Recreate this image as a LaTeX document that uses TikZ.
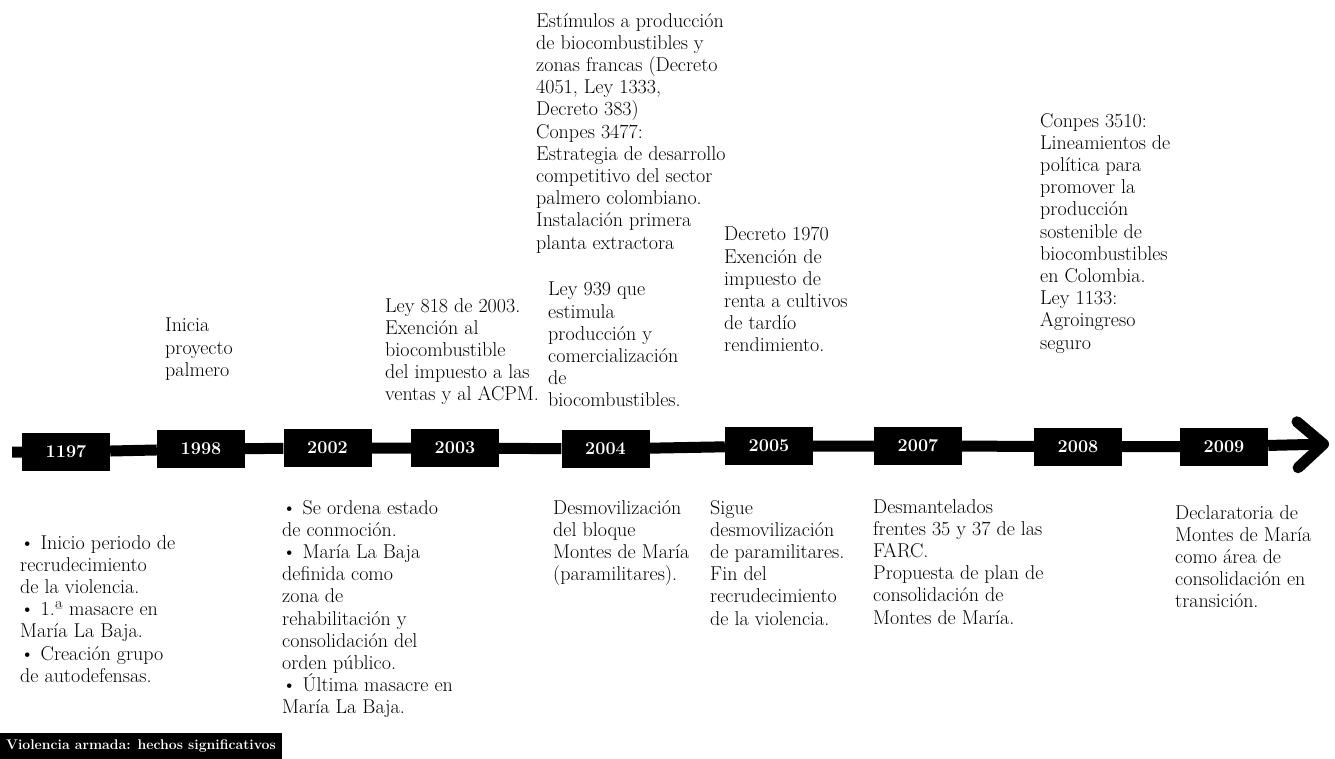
\documentclass[tikz,border=0pt]{standalone}
\usepackage{fontspec}
\usepackage{tikz}
\usetikzlibrary{arrows.meta}

\tikzset{
  year/.style={fill=black, text=white, inner sep=0pt, minimum width=88pt, minimum height=38pt,
    font=\fontsize{18}{18}\selectfont\bfseries},
  event/.style={anchor=north west, align=left, inner sep=0pt,
    font=\fontsize{20}{22.2}\selectfont},
  timeline/.style={line width=11pt, -{Straight Barb[length=26pt, width=46pt, round]}},
  tagbox/.style={fill=black, text=white, inner xsep=6pt, inner ysep=0pt, minimum height=26pt,
    font=\fontsize{14}{14}\selectfont\bfseries},
}

\begin{document}
\begin{tikzpicture}[x=1pt, y=-1pt]
\useasboundingbox (0,0) rectangle (1335,759);

% anos sobre la linea
\node[year](y1197) at (66,452) {1197};
\node[year](y1998) at (201,449) {1998};
\node[year](y2002) at (327.5,448) {2002};
\node[year](y2003) at (455,448) {2003};
\node[year](y2004) at (605.5,449) {2004};
\node[year](y2005) at (769,446) {2005};
\node[year](y2007) at (918,446) {2007};
\node[year](y2008) at (1078,446.5) {2008};
\node[year](y2009) at (1224,446.5) {2009};
\coordinate (start) at (12,452);
\coordinate (tip) at (1329,444);

\draw[timeline] (start) -- (y1197) -- (y1998) -- (y2002) -- (y2003) -- (y2004)
  -- (y2005) -- (y2007) -- (y2008) -- (y2009) -- (tip);

% arriba: politicas
\node[event](p1998) at (165,318) {Inicia\\proyecto\\palmero};
\node[event](p2003) at (385,298) {Ley 818 de 2003.\\Exención al\\biocombustible\\del impuesto a las\\ventas y al ACPM.};
\node[event](p2004) at (548,282) {Ley 939 que\\estimula\\producción y\\comercialización\\de\\biocombustibles.};
\node[event](p2005a) at (536,13) {Estímulos a producción\\de biocombustibles y\\zonas francas (Decreto\\4051, Ley 1333,\\Decreto 383)\\Conpes 3477:\\Estrategia de desarrollo\\competitivo del sector\\palmero colombiano.\\Instalación primera\\planta extractora};
\node[event](p2007) at (724,227) {Decreto 1970\\Exención de\\impuesto de\\renta a cultivos\\de tardío\\rendimiento.};
\node[event](p2008) at (1040,113) {Conpes 3510:\\Lineamientos de\\política para\\promover la\\producción\\sostenible de\\biocombustibles\\en Colombia.\\Ley 1133:\\Agroingreso\\seguro};

% abajo: violencia
\node[event](v1197) at (20,535) {• Inicio periodo de\\recrudecimiento\\de la violencia.\\• 1.ª masacre en\\María La Baja.\\• Creación grupo\\de autodefensas.};
\node[event](v2002) at (282,500) {• Se ordena estado\\de conmoción.\\• María La Baja\\definida como\\zona de\\rehabilitación y\\consolidación del\\orden público.\\• Última masacre en\\María La Baja.};
\node[event](v2004) at (553,500) {Desmovilización\\del bloque\\Montes de María\\(paramilitares).};
\node[event](v2005) at (710,500) {Sigue\\desmovilización\\de paramilitares.\\Fin del\\recrudecimiento\\de la violencia.};
\node[event](v2007) at (873,499) {Desmantelados\\frentes 35 y 37 de las\\FARC.\\Propuesta de plan de\\consolidación de\\Montes de María.};
\node[event](v2009) at (1175,505) {Declaratoria de\\Montes de María\\como área de\\consolidación en\\transición.};

\node[tagbox, anchor=south west](tag) at (0,759) {Violencia armada: hechos significativos};
\end{tikzpicture}
\end{document}
